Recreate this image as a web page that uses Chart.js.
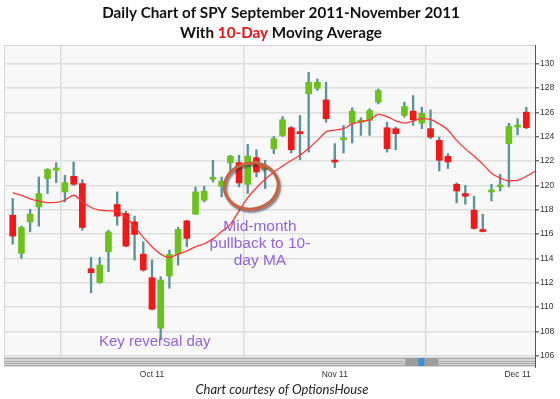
<!DOCTYPE html>
<html>
<head>
<meta charset="utf-8">
<title>SPY daily chart</title>
<script src="https://cdn.jsdelivr.net/npm/chart.js@4.4.1/dist/chart.umd.min.js"></script>
<style>
  html, body { margin: 0; padding: 0; background: #fff; }
  canvas { display: block; }
</style>
</head>
<body>
<canvas id="spy" width="560" height="399"></canvas>
<script>
// trading days shown, Sep 9 2011 - Dec 2 2011
const dates = [
  'Sep 9', 'Sep 12', 'Sep 13', 'Sep 14', 'Sep 15', 'Sep 16', 'Sep 19', 'Sep 20', 'Sep 21', 'Sep 22',
  'Sep 23', 'Sep 26', 'Sep 27', 'Sep 28', 'Sep 29', 'Sep 30', 'Oct 3', 'Oct 4', 'Oct 5', 'Oct 6',
  'Oct 7', 'Oct 10', 'Oct 11', 'Oct 12', 'Oct 13', 'Oct 14', 'Oct 17', 'Oct 18', 'Oct 19', 'Oct 20',
  'Oct 21', 'Oct 24', 'Oct 25', 'Oct 26', 'Oct 27', 'Oct 28', 'Oct 31', 'Nov 1', 'Nov 2', 'Nov 3',
  'Nov 4', 'Nov 7', 'Nov 8', 'Nov 9', 'Nov 10', 'Nov 11', 'Nov 14', 'Nov 15', 'Nov 16', 'Nov 17',
  'Nov 18', 'Nov 21', 'Nov 22', 'Nov 23', 'Nov 25', 'Nov 28', 'Nov 29', 'Nov 30', 'Dec 1', 'Dec 2'
];
const opens = [
  117.55, 114.41, 117.00, 118.23, 120.56, 121.24, 119.46, 120.75, 120.15, 113.15,
  112.00, 114.54, 118.43, 117.69, 117.00, 114.35, 112.41, 108.26, 112.55, 114.35,
  117.08, 117.63, 118.78, 120.50, 119.93, 121.84, 121.87, 120.09, 122.28, 121.34,
  123.02, 124.11, 124.74, 124.33, 127.52, 127.98, 127.03, 121.98, 123.75, 125.11,
  125.20, 125.34, 126.84, 124.74, 124.66, 125.75, 126.10, 125.11, 124.66, 123.70,
  122.39, 120.09, 119.33, 117.96, 116.32, 119.46, 119.87, 123.43, 124.79, 126.02
];
const highs = [
  118.92, 116.65, 118.04, 120.69, 121.38, 121.87, 120.83, 121.92, 120.47, 114.08,
  114.08, 116.32, 119.46, 117.88, 117.47, 115.36, 113.86, 112.49, 114.68, 116.54,
  117.14, 119.87, 119.93, 122.06, 120.69, 122.47, 122.47, 123.37, 122.93, 122.06,
  124.02, 125.66, 124.84, 125.75, 129.30, 128.75, 128.48, 123.43, 124.92, 126.38,
  125.56, 126.30, 127.93, 125.20, 124.79, 126.84, 127.39, 126.43, 126.21, 123.97,
  122.61, 120.20, 120.00, 119.11, 117.63, 120.09, 120.91, 125.11, 125.48, 126.43
];
const lows = [
  115.17, 114.00, 116.18, 116.65, 119.33, 120.23, 118.64, 120.00, 116.32, 111.18,
  111.95, 112.90, 116.73, 114.95, 113.86, 112.95, 109.76, 107.30, 111.54, 113.45,
  114.95, 117.63, 118.64, 120.28, 119.05, 121.10, 119.87, 119.33, 120.69, 119.74,
  122.61, 124.02, 122.66, 122.11, 122.74, 127.80, 125.20, 121.46, 122.66, 123.48,
  124.11, 124.11, 126.70, 122.74, 122.93, 125.61, 124.93, 124.66, 123.84, 121.18,
  121.38, 118.56, 118.45, 116.40, 116.18, 118.72, 119.54, 119.87, 124.16, 124.66
];
const closes = [
  115.83, 116.54, 117.63, 119.33, 121.32, 121.43, 120.23, 120.09, 116.54, 112.82,
  113.45, 116.18, 117.47, 115.01, 115.97, 113.04, 109.82, 112.22, 114.33, 116.38,
  115.64, 119.46, 119.52, 120.64, 120.36, 122.41, 120.20, 122.41, 121.10, 121.57,
  123.84, 125.39, 122.93, 124.25, 128.48, 128.48, 125.48, 121.92, 123.91, 126.10,
  125.34, 126.16, 127.80, 123.02, 124.25, 126.48, 125.39, 125.93, 123.97, 122.06,
  121.92, 119.54, 119.11, 116.46, 116.21, 119.60, 119.98, 124.84, 124.90, 124.74
];
// 10-day moving average as drawn, one value per day plus the one at the right edge
const ma10 = [
  119.38, 119.17, 118.90, 118.72, 118.58, 118.60, 118.80, 119.19, 118.64, 118.18,
  117.96, 117.90, 117.88, 117.41, 116.60, 115.72, 114.95, 114.35, 114.08, 114.35,
  114.62, 114.95, 115.20, 115.60, 116.20, 116.80, 117.90, 119.00, 119.80, 120.50,
  121.10, 121.60, 122.05, 122.47, 123.05, 123.70, 124.40, 124.55, 124.66, 125.05,
  125.25, 125.38, 125.83, 125.65, 125.30, 125.11, 125.30, 125.48, 125.42, 125.05,
  124.55, 123.70, 123.00, 122.40, 121.75, 121.00, 120.60, 120.38, 120.42, 120.75,
  121.16
];
const monthStarts = ['Oct 3', 'Nov 1', 'Dec 1'];
const monthLabels = ['Oct 11', 'Nov 11', 'Dec 11'];
const yLabels = [106, 108, 110, 112, 114, 116, 118, 120, 122, 124, 126, 128, 130];

const GREEN = '#6cc21c';
const RED = '#f51616';
const WICK = '#5a9499';

// one empty slot on each side of the candles
const slots = ['', ...dates, ''];
const pad = arr => [null, ...arr, null];
const bodies = pad(opens.map((o, i) => [o, closes[i]]));
const wicks = pad(lows.map((l, i) => [l, highs[i]]));
const candleColor = ctx => {
  const i = ctx.dataIndex - 1;
  return closes[i] >= opens[i] ? GREEN : RED;
};

const decor = {
  id: 'decor',
  beforeDraw(chart) {
    const { ctx, chartArea: a } = chart;
    ctx.save();
    ctx.fillStyle = '#f8f8f8';
    ctx.fillRect(a.left, a.top, a.right - a.left, a.bottom - a.top);
    ctx.strokeStyle = '#d4d4d4';
    ctx.lineWidth = 1;
    ctx.strokeRect(a.left + 0.5, a.top + 0.5, a.right - a.left, a.bottom - a.top);
    ctx.restore();
  },
  afterDatasetsDraw(chart) {
    const { ctx, scales: { x, y } } = chart;
    ctx.save();
    // circle round the pullback
    const cx = x.getPixelForValue(28.4), cy = y.getPixelForValue(119.95);
    ctx.shadowColor = 'rgba(40,40,60,0.6)';
    ctx.shadowBlur = 2;
    ctx.shadowOffsetX = 1.5;
    ctx.shadowOffsetY = 2;
    ctx.strokeStyle = '#c8643f';
    ctx.lineWidth = 3;
    ctx.beginPath();
    ctx.ellipse(cx, cy, 27, 23, -0.15, -1.2, Math.PI * 2 - 1.35);
    ctx.quadraticCurveTo(cx + 6, cy - 26, cx + 12, cy - 17);
    ctx.stroke();
    ctx.shadowColor = 'transparent';

    ctx.fillStyle = '#9363dd';
    ctx.font = '15px "Liberation Sans", Arial, sans-serif';
    ctx.textBaseline = 'alphabetic';
    ctx.textAlign = 'left';
    ctx.fillText('Key reversal day', x.getPixelForValue(10.9), y.getPixelForValue(106.8));
    ctx.font = '15.5px "Liberation Sans", Arial, sans-serif';
    ctx.textAlign = 'center';
    ctx.textBaseline = 'middle';
    const mx = x.getPixelForValue(29.4), my = y.getPixelForValue(116.63);
    ['Mid-month', 'pullback to 10-', 'day MA'].forEach((t, k) => ctx.fillText(t, mx, my + k * 17.3));
    ctx.restore();
  },
  afterDraw(chart) {
    const { ctx, chartArea: a, scales: { x } } = chart;
    ctx.save();
    // scroll bar under the plot
    const top = a.bottom - 1;
    ctx.fillStyle = '#d6d6d6';
    ctx.fillRect(a.left, top, a.right - a.left, 10);
    ctx.fillStyle = '#a9a9a9';
    [1, 4, 6, 8].forEach(d => ctx.fillRect(a.left, top + d, a.right - a.left, 1));
    const tx = x.getPixelForValue(46.1);
    ctx.fillStyle = '#9d9d9d';
    ctx.fillRect(tx, top + 1, 33, 8);
    ctx.fillStyle = '#3f8fd8';
    ctx.fillRect(tx + 13, top + 1, 6, 8);
    ctx.fillStyle = '#555';
    ctx.fillRect(a.right, a.bottom, 1, 10);

    // title
    ctx.textBaseline = 'middle';
    ctx.textAlign = 'left';
    const cxT = 281;
    let size = 15;
    ctx.font = `bold ${size}px Lato, "Open Sans", sans-serif`;
    const line1 = 'Daily Chart of SPY September 2011-November 2011';
    size = size * 358 / ctx.measureText(line1).width;
    ctx.font = `bold ${size}px Lato, "Open Sans", sans-serif`;
    ctx.fillStyle = '#111';
    ctx.fillText(line1, cxT - ctx.measureText(line1).width / 2, 13.5);
    const parts = [['With ', '#111'], ['10-Day', '#ee1111'], [' Moving Average', '#111']];
    const total = parts.reduce((s, p) => s + ctx.measureText(p[0]).width, 0);
    let px = cxT - total / 2;
    parts.forEach(([t, c]) => {
      ctx.fillStyle = c;
      ctx.fillText(t, px, 33.5);
      px += ctx.measureText(t).width;
    });

    // caption
    ctx.font = 'italic 13px Lato, "Open Sans", sans-serif';
    ctx.fillStyle = '#222';
    ctx.textAlign = 'center';
    ctx.fillText('Chart courtesy of OptionsHouse', 282, 390);
    ctx.restore();
  }
};

new Chart(document.getElementById('spy'), {
  type: 'bar',
  data: {
    labels: slots,
    datasets: [
      {
        type: 'line',
        label: '10-day MA',
        data: [null, ...ma10],
        borderColor: '#ff3535',
        borderWidth: 1.3,
        pointRadius: 0,
        cubicInterpolationMode: 'monotone',
        order: 0
      },
      {
        label: 'Body',
        data: bodies,
        backgroundColor: candleColor,
        barThickness: 6,
        minBarLength: 2,
        grouped: false,
        order: 1
      },
      {
        label: 'Wick',
        data: wicks,
        backgroundColor: WICK,
        barThickness: 1.7,
        grouped: false,
        order: 2
      }
    ]
  },
  options: {
    responsive: false,
    animation: false,
    layout: { padding: { top: 45, left: 4, right: 0, bottom: 0 } },
    plugins: {
      legend: { display: false },
      tooltip: { enabled: false }
    },
    scales: {
      x: {
        type: 'category',
        offset: false,
        grid: { color: '#dcdcdc', lineWidth: 1.5, drawTicks: false },
        border: { display: false },
        ticks: {
          autoSkip: false,
          maxRotation: 0,
          padding: 12,
          color: '#333',
          font: { size: 8.5, family: '"Liberation Sans", Arial, sans-serif' },
          callback(v) {
            const k = monthStarts.indexOf(this.getLabelForValue(v));
            return k < 0 ? null : monthLabels[k];
          }
        },
        afterBuildTicks(scale) {
          scale.ticks = scale.ticks.filter(t => monthStarts.includes(scale.getLabelForValue(t.value)));
        },
        afterFit(scale) { scale.height = 41; }
      },
      y: {
        position: 'right',
        min: 105.81,
        max: 131.54,
        grid: {
          color: ctx => yLabels.includes(ctx.tick.value) ? '#dedede' : 'rgba(0,0,0,0)',
          lineWidth: 1.5,
          tickLength: 4,
          tickColor: '#777'
        },
        border: { color: '#555', width: 1 },
        ticks: {
          stepSize: 1,
          includeBounds: false,
          padding: 1,
          color: '#333',
          font: { size: 8.5, family: '"Liberation Sans", Arial, sans-serif' },
          callback: v => yLabels.includes(v) ? String(v) : ''
        },
        afterFit(scale) { scale.width = 25; }
      }
    }
  },
  plugins: [decor]
});
</script>
</body>
</html>
